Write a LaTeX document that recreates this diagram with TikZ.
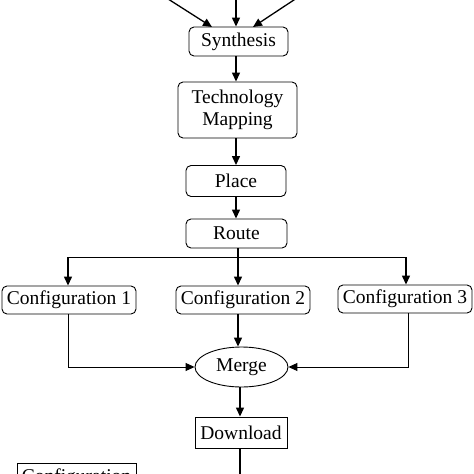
\documentclass[tikz,border=0pt]{standalone}
\usepackage{fontspec}
\setmainfont{Liberation Serif}
\usetikzlibrary{arrows.meta}
\usetikzlibrary{shapes.geometric}

\begin{document}
\begin{tikzpicture}[x=1pt,y=-1pt]
\tikzstyle{every node}=[font=\fontsize{19.5}{22}\selectfont]
\tikzstyle{stage}=[draw, line width=0.9pt, rounded corners=5pt, inner sep=0pt]
\tikzstyle{plain}=[draw, line width=0.9pt, inner sep=0pt]
\tikzstyle{flow}=[line width=1.3pt, -{Triangle[length=9pt,width=8pt]}]
\useasboundingbox (0,0) rectangle (474,474);
\clip (0,0) rectangle (474,474);
\fill [white] (0,0) rectangle (474,474);
\node [stage, minimum width=99pt, minimum height=29pt] (syn) at (238.5,41.5) {Synthesis};
\node [stage, minimum width=119pt, minimum height=56pt, align=center] (tech) at (237.5,110) {Technology\\Mapping};
\node [stage, minimum width=100pt, minimum height=31pt] (place) at (236,181) {Place};
\node [stage, minimum width=101pt, minimum height=29pt] (route) at (236.5,233.5) {Route};
\node [stage, minimum width=134pt, minimum height=28pt] (conf1) at (69,300) {Configuration 1};
\node [stage, minimum width=134pt, minimum height=28pt] (conf2) at (243,300) {Configuration 2};
\node [stage, minimum width=134pt, minimum height=28pt] (conf3) at (405,299) {Configuration 3};
\node [draw, ellipse, line width=0.9pt, minimum width=93pt, minimum height=40pt, inner sep=0pt] (merge) at (241.5,367) {Merge};
\node [plain, minimum width=92pt, minimum height=31pt] (down) at (241,432.5) {Download};
\node [plain, anchor=north, minimum width=119pt, minimum height=50pt, text depth=26pt] (bits) at (76.5,463) {Configuration};
\coordinate (inA) at (154,-10);
\coordinate (inB) at (236,-10);
\coordinate (inC) at (309,-10);
\coordinate (upper) at (236,0);
\coordinate (splitL) at (68,257);
\coordinate (splitM) at (238,257);
\coordinate (splitR) at (406,257);
\coordinate (joinL) at (68,367);
\coordinate (joinR) at (408,367);
\coordinate (lower) at (240,0);
\coordinate (out) at (240,490);
\draw [flow] (inA) -- (212,27);
\draw [flow] (inB) -- (inB |- syn.north);
\draw [flow] (inC) -- (253,27);
\draw [flow] (upper |- syn.south) -- (upper |- tech.north);
\draw [flow] (upper |- tech.south) -- (upper |- place.north);
\draw [flow] (upper |- place.south) -- (upper |- route.north);
\draw [line width=1pt] (splitL) -- (splitR);
\draw [flow] (route.south -| splitM) -- (splitM |- conf2.north);
\draw [flow] (splitL) -- (splitL |- conf1.north);
\draw [flow] (splitR) -- (splitR |- conf3.north);
\draw [flow] (splitM |- conf2.south) -- (splitM |- merge.north);
\draw [flow, line width=1pt] (conf1.south -| joinL) -- (joinL) -- (merge.west);
\draw [flow, line width=1pt] (conf3.south -| joinR) -- (joinR) -- (merge.east);
\draw [flow] (lower |- merge.south) -- (lower |- down.north);
\draw [flow] (lower |- down.south) -- (out);
\end{tikzpicture}
\end{document}
